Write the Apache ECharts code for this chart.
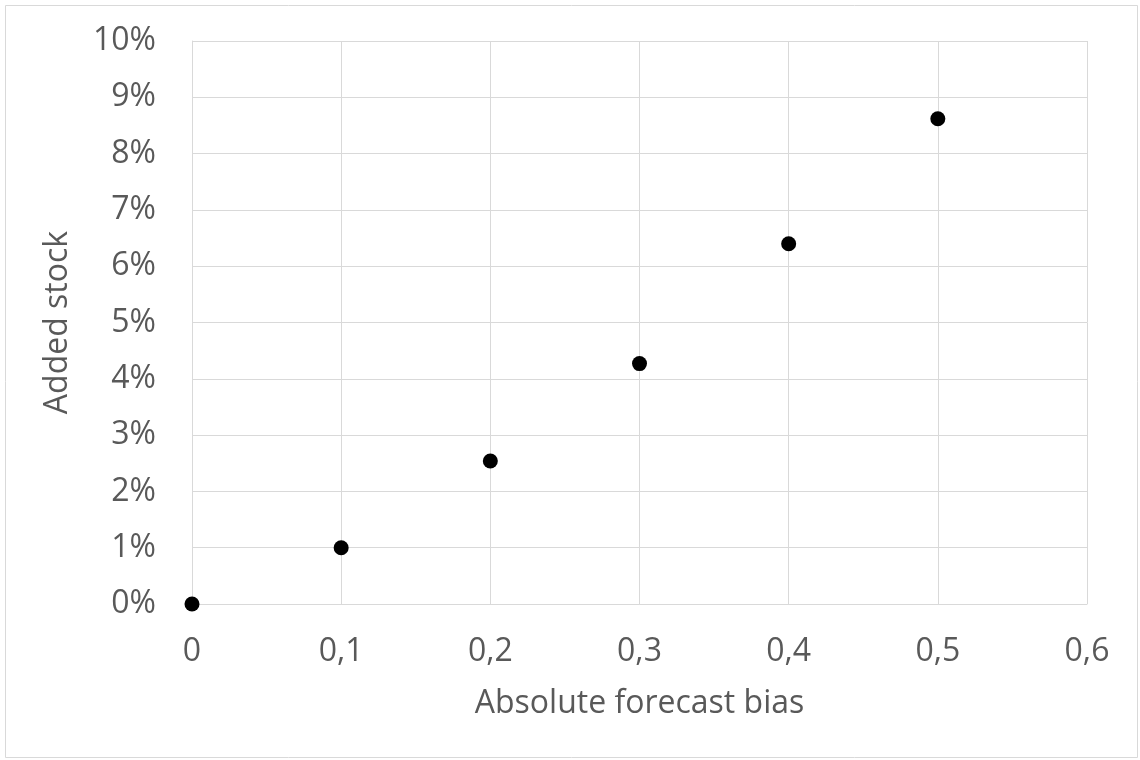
<!DOCTYPE html>
<html><head><meta charset="utf-8">
<script src="https://cdn.jsdelivr.net/npm/echarts@6/dist/echarts.min.js"></script>
<style>html,body{margin:0;padding:0;background:#fff}#c{width:1140px;height:760px}</style>
</head><body><div id="c"></div>
<script>
const biasValues = [0, 0.1, 0.2, 0.3, 0.4, 0.5];
const addedStockPct = [0, 1.0, 2.54, 4.27, 6.40, 8.62];
const xTitle = 'Absolute forecast bias';
const yTitle = 'Added stock';
const FONT = 'Open Sans';
const TXT = '#595959';
const chart = echarts.init(document.getElementById('c'), null, {renderer: 'canvas'});
chart.setOption({
  animation: false,
  backgroundColor: '#fff',
  graphic: [{type: 'rect', shape: {x: 5.5, y: 5.5, width: 1132, height: 752}, style: {fill: 'none', stroke: '#d9d9d9', lineWidth: 1}, silent: true}],
  grid: {left: 192, right: 53, top: 41, bottom: 156, containLabel: false},
  xAxis: {
    type: 'value', min: 0, max: 0.6, interval: 0.1,
    name: xTitle, nameLocation: 'middle', nameGap: 84,
    nameTextStyle: {fontFamily: FONT, fontSize: 32, color: TXT},
    axisLine: {show: true, onZero: false, lineStyle: {color: '#d9d9d9', width: 1}},
    axisTick: {show: false},
    splitLine: {show: true, lineStyle: {color: '#d9d9d9', width: 1}},
    axisLabel: {margin: 32, fontFamily: FONT, fontSize: 32, color: TXT,
      formatter: v => String(Math.round(v * 10) / 10).replace('.', ',')}
  },
  yAxis: {
    type: 'value', min: 0, max: 10, interval: 1,
    name: yTitle, nameLocation: 'middle', nameGap: 118, nameRotate: 90,
    nameTextStyle: {fontFamily: FONT, fontSize: 32, color: TXT},
    axisLine: {show: true, onZero: false, lineStyle: {color: '#d9d9d9', width: 1}},
    axisTick: {show: false},
    splitLine: {show: true, lineStyle: {color: '#d9d9d9', width: 1}},
    axisLabel: {margin: 36, fontFamily: FONT, fontSize: 32, color: TXT,
      formatter: v => Math.round(v) + '%'}
  },
  series: [{
    type: 'scatter',
    data: biasValues.map((x, i) => [x, addedStockPct[i]]),
    symbol: 'circle', symbolSize: 15,
    itemStyle: {color: '#000', opacity: 1},
    clip: false
  }]
});
</script></body></html>
